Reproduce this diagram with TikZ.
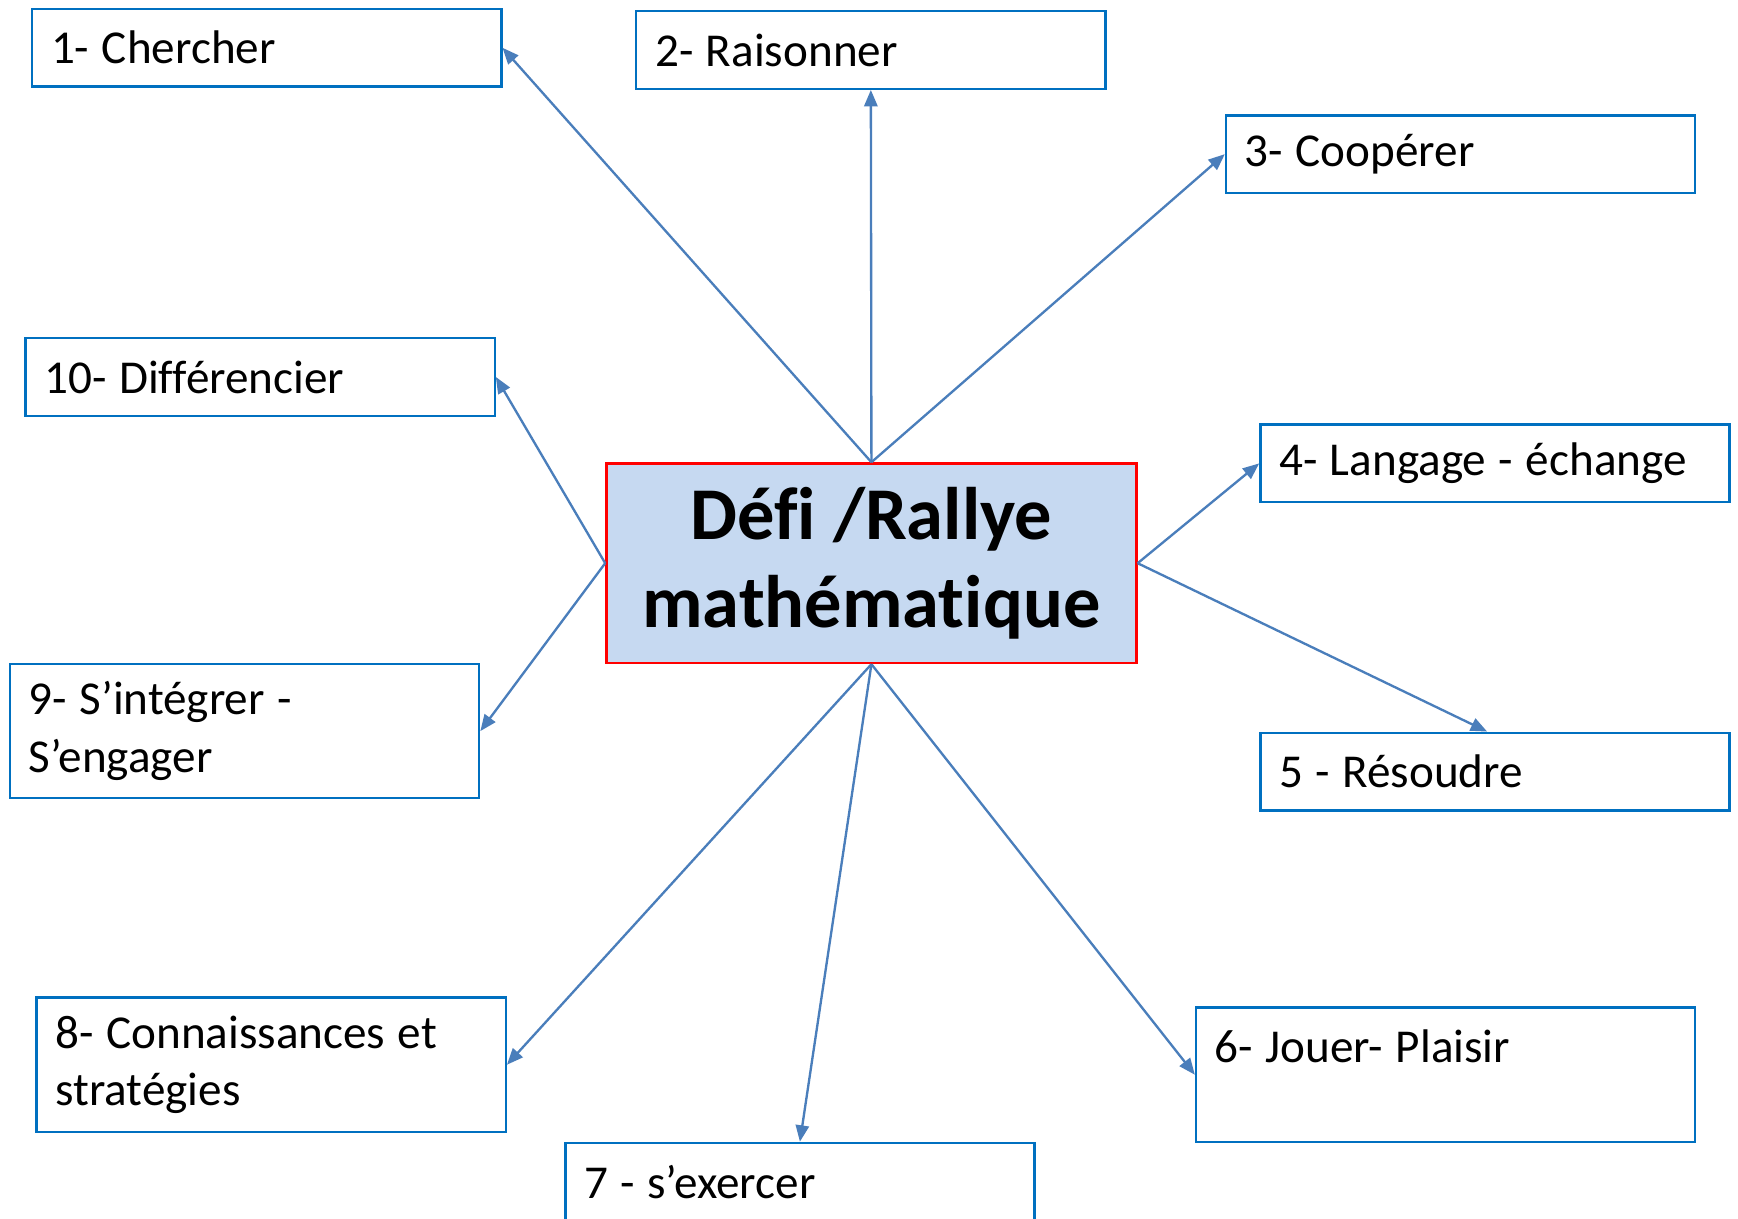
\documentclass[tikz,border=0pt]{standalone}
\usepackage{fontspec}
\setmainfont{Carlito}[Ligatures=NoCommon]
\usepackage{xcolor}
\usetikzlibrary{arrows.meta}
\usetikzlibrary{positioning}
\definecolor{boxblue}{RGB}{0,112,192}
\definecolor{linkblue}{RGB}{74,126,187}
\definecolor{hubfill}{RGB}{198,217,241}

\begin{document}
\begin{tikzpicture}[
    x=0.01cm, y=-0.01cm,
    box/.style={rectangle, draw=boxblue, line width=0.6pt, anchor=north west,
                minimum width=4.23cm, minimum height=0.70cm, text width=3.89cm,
                inner xsep=0.17cm, align=left,
                font=\fontsize{12.1}{14.8}\selectfont,
                execute at begin node={\spaceskip=0.265em\relax}},
    tallbox/.style={box, minimum height=1.21cm},
    hub/.style={rectangle, draw=red, fill=hubfill, line width=0.6pt,
                anchor=north west, minimum width=4.78cm, minimum height=1.80cm,
                align=center, font=\fontsize{19.1}{22.8}\selectfont\bfseries},
    link/.style={-{Triangle[length=4.2pt, width=3.4pt]}, draw=linkblue,
                 line width=0.6pt},
  ]
  \useasboundingbox (0,0) rectangle (1568,1099);

  \node[hub] (defi) at (546,417) {Défi /Rallye\\mathématique};

  \node[box] (chercher)   at (28,7)     {1- Chercher};
  \node[box] (raisonner)  at (573,9)    {2- Raisonner};
  \node[box] (cooperer)   at (1105,103) {3- Coopérer};
  \node[box] (langage)    at (1136,382) {4- Langage - échange};
  \node[box] (resoudre)   at (1136,660) {5 - Résoudre};
  \node[tallbox, minimum width=4.50cm, text width=4.16cm]
             (jouer)      at (1078,908) {6- Jouer- Plaisir\\~};
  \node[box] (exercer)    at (509,1030) {7 - s’exercer};
  \node[tallbox] (connaiss) at (32,899) {8- Connaissances et\\stratégies};
  \node[tallbox] (integrer) at (8,598)  {9- S’intégrer -\\S’engager};
  \node[box] (differ)     at (22,304)   {10- Différencier};

  \draw[link] (defi.north) -- (chercher.east);
  \draw[link] (defi.north) -- (raisonner.south);
  \draw[link] (defi.north) -- (cooperer.west);
  \draw[link] (defi.east)  -- (langage.west);
  \draw[link] (defi.east)  -- ([xshift=-0.07cm]resoudre.north);
  \draw[link] (defi.south) -- (jouer.west);
  \draw[link] (defi.south) -- (exercer.north);
  \draw[link] (defi.south) -- (connaiss.east);
  \draw[link] (defi.west)  -- (integrer.east);
  \draw[link] (defi.west)  -- (differ.east);
\end{tikzpicture}
\end{document}
